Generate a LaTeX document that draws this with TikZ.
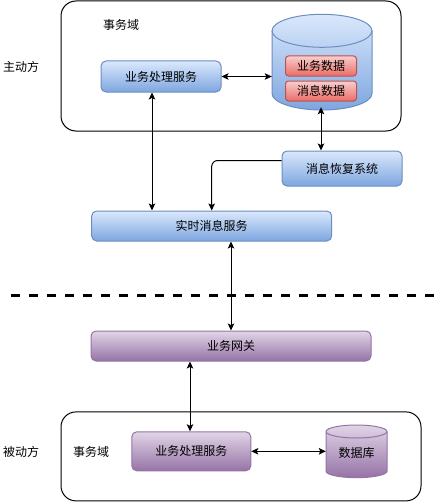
\documentclass[tikz,border=0pt]{standalone}
\usepackage{fontspec}
\newfontfamily\cjk{Noto Sans CJK SC}
\usetikzlibrary{positioning, arrows.meta, calc}
\definecolor{BlueTop}{HTML}{DAE8FC}
\definecolor{BlueBottom}{HTML}{7EA6E0}
\definecolor{BlueLine}{HTML}{6C8EBF}
\definecolor{PurpleTop}{HTML}{E1D5E7}
\definecolor{PurpleBottom}{HTML}{9673A6}
\definecolor{PurpleLine}{HTML}{9673A6}
\definecolor{RedTop}{HTML}{F8CECC}
\definecolor{RedBottom}{HTML}{EA6B66}
\definecolor{RedLine}{HTML}{B85450}

\tikzset{
  every node/.style={font=\cjk\fontsize{12pt}{14pt}\selectfont, inner sep=0pt},
  domainbox/.style={draw, line width=1pt, rounded corners=15pt},
  bluebox/.style={draw=BlueLine, line width=1pt, rounded corners=5pt, top color=BlueTop, bottom color=BlueBottom},
  purplebox/.style={draw=PurpleLine, line width=1pt, rounded corners=5pt, top color=PurpleTop, bottom color=PurpleBottom},
  redbox/.style={draw=RedLine, line width=1pt, rounded corners=3pt, top color=RedTop, bottom color=RedBottom},
  tipshape/.tip={Stealth[length=7pt,width=6.5pt,inset=1.5pt]},
  biarrow/.style={line width=1pt, tipshape-tipshape},
  onearrow/.style={line width=1pt, -tipshape},
  splitline/.style={line width=3pt, dash pattern=on 9pt off 9pt}
}

\begin{document}
\begin{tikzpicture}[x=1pt, y=1pt]
  \useasboundingbox (0,0) rectangle (444,-503);

  % active side
  \node[domainbox, minimum width=340, minimum height=130] (topdomain) at (231,-66) {};
  \node (activelbl) at (21,-67) {主动方};
  \node (topdomainlbl) at (121,-25) {事务域};
  \node[bluebox, minimum width=120, minimum height=31] (topsvc) at (161,-76.5) {业务处理服务};

  % message store cylinder
  \shade[top color=BlueTop, bottom color=BlueBottom, draw=BlueLine, line width=1pt]
    (272,-30.8) -- (272,-93.5) arc[start angle=180, end angle=360, x radius=50, y radius=16.5]
    -- (372,-30.8) arc[start angle=0, end angle=180, x radius=50, y radius=16.5] -- cycle;
  \draw[BlueLine, line width=1pt] (272,-30.8) arc[start angle=180, end angle=360, x radius=50, y radius=16.5];
  \node[minimum width=100, minimum height=96] (msgdb) at (322,-59) {};
  \node[redbox, minimum width=71, minimum height=20] (bizdata) at (321,-66) {业务数据};
  \node[redbox, minimum width=71, minimum height=20] (msgdata) at (321,-91) {消息数据};

  \node[bluebox, minimum width=120, minimum height=35] (recover) at (342,-168.5) {消息恢复系统};
  \node[bluebox, minimum width=240, minimum height=30] (realtime) at (211.7,-226) {实时消息服务};

  \draw[biarrow] (topsvc.east) -- (topsvc.east -| msgdb.west);
  \draw[biarrow] (msgdb.south -| msgdata.south) -- (msgdata.south |- recover.north);
  \draw[biarrow] ([xshift=-9pt]topsvc.south) -- ([xshift=-9pt]topsvc.south |- realtime.north);
  \draw[onearrow, rounded corners=6pt] ([yshift=8pt]recover.west) -| (realtime.north);

  % split line
  \coordinate (splitL) at (11,-295);
  \coordinate (splitR) at (436,-295);
  \draw[splitline] (splitL) -- (splitR);

  % passive side
  \node[purplebox, minimum width=280, minimum height=30] (gateway) at (231,-346) {业务网关};
  \node[domainbox, minimum width=360, minimum height=89] (botdomain) at (241,-456.4) {};
  \node (passivelbl) at (21,-452) {被动方};
  \node (botdomainlbl) at (91,-452) {事务域};
  \node[purplebox, minimum width=119, minimum height=39] (botsvc) at (191.3,-451.3) {业务处理服务};

  % database cylinder
  \shade[top color=PurpleTop, bottom color=PurpleBottom, draw=PurpleLine, line width=1pt]
    (326,-431.5) -- (326,-471.2) arc[start angle=180, end angle=360, x radius=30.5, y radius=6.5]
    -- (387,-431.5) arc[start angle=0, end angle=180, x radius=30.5, y radius=6.5] -- cycle;
  \draw[PurpleLine, line width=1pt] (326,-431.5) arc[start angle=180, end angle=360, x radius=30.5, y radius=6.5];
  \node[minimum width=61, minimum height=52] (db) at (356.5,-451.3) {};
  \node (dblbl) at (356.5,-453) {数据库};

  \draw[biarrow] (gateway.north |- realtime.south) -- (gateway.north);
  \draw[biarrow] ([xshift=-1.3pt]botsvc.north |- gateway.south) -- ([xshift=-1.3pt]botsvc.north);
  \draw[biarrow] (botsvc.east) -- (db.west);
\end{tikzpicture}
\end{document}
